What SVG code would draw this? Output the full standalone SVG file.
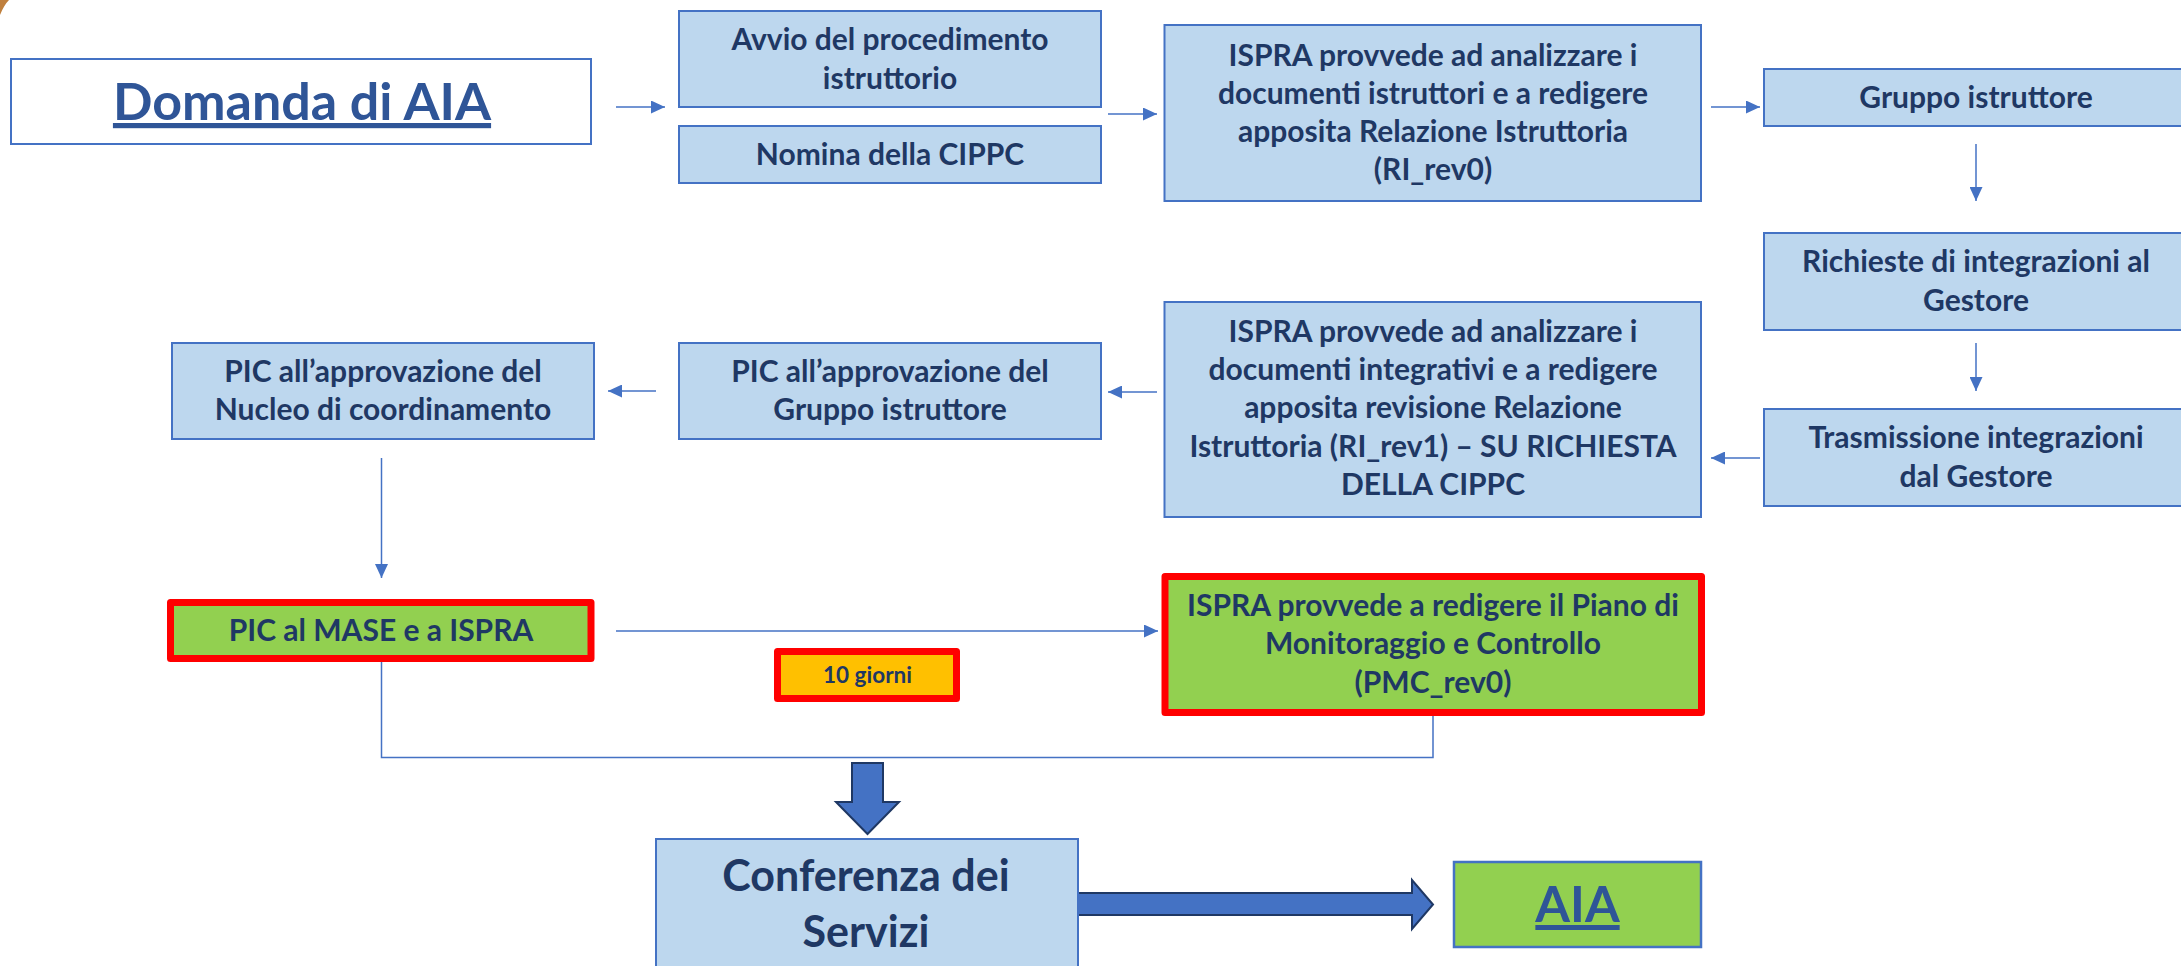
<svg xmlns="http://www.w3.org/2000/svg" width="2181" height="966" viewBox="0 0 2181 966">
<defs>
<style>
.box{fill:#BDD7EE;stroke:#4472C4;stroke-width:2}
.hl{stroke:#FF0000;stroke-width:7;stroke-linejoin:round}
.green{fill:#92D050}
.orange{fill:#FFC000}
.t{font-family:Lato,"Liberation Sans",sans-serif;font-weight:700;fill:#1F3864;font-size:30px;text-anchor:middle}
.t.s{font-size:22.5px}
.t.l{font-size:43px}
.big{font-family:Lato,"Liberation Sans",sans-serif;font-weight:700;fill:#2F5597;text-anchor:middle;text-decoration:underline}
.conn{fill:none;stroke:#4472C4;stroke-width:1.5}
.block{fill:#4472C4;stroke:#1F3864;stroke-width:2}
</style>
<marker id="ah" markerUnits="userSpaceOnUse" markerWidth="14" markerHeight="13" refX="14" refY="6.5" orient="auto">
<path d="M0,0 L14,6.5 L0,13 Z" fill="#4472C4"/>
</marker>
</defs>
<rect width="2181" height="966" fill="#FFFFFF"/>
<path d="M0,0 H9 Q4,5 0,15 Z" fill="#C0803E"/>

<g id="connectors">
<line class="conn" x1="616" y1="107" x2="665" y2="107" marker-end="url(#ah)"/>
<line class="conn" x1="1108" y1="114" x2="1157" y2="114" marker-end="url(#ah)"/>
<line class="conn" x1="1711" y1="107" x2="1760" y2="107" marker-end="url(#ah)"/>
<line class="conn" x1="1976" y1="144" x2="1976" y2="201" marker-end="url(#ah)"/>
<line class="conn" x1="1976" y1="343" x2="1976" y2="391" marker-end="url(#ah)"/>
<line class="conn" x1="1760" y1="458" x2="1711" y2="458" marker-end="url(#ah)"/>
<line class="conn" x1="1157" y1="392" x2="1108" y2="392" marker-end="url(#ah)"/>
<line class="conn" x1="656" y1="391" x2="608" y2="391" marker-end="url(#ah)"/>
<line class="conn" x1="381.5" y1="458" x2="381.5" y2="578" marker-end="url(#ah)"/>
<line class="conn" x1="616" y1="631" x2="1158" y2="631" marker-end="url(#ah)"/>
<path class="conn" d="M381.5,662 V757.5 H1433 V716"/>
<path class="block" d="M852,763 H883 V802 H899 L867.5,834 L836,802 H852 Z"/>
<path class="block" d="M1078,893 H1412 V880 L1433,904.5 L1412,929 V915 H1078 Z"/>
</g>

<g id="domanda">
<rect x="11" y="59" width="580" height="85" fill="#FFFFFF" stroke="#4472C4" stroke-width="2"/>
<text class="big" x="302" y="120" font-size="52">Domanda di AIA</text>
</g>

<g id="avvio">
<rect class="box" x="679" y="11" width="422" height="96"/>
<text class="t" x="890" y="50">Avvio del procedimento</text>
<text class="t" x="890" y="89">istruttorio</text>
</g>

<g id="nomina">
<rect class="box" x="679" y="126" width="422" height="57"/>
<text class="t" x="890" y="165">Nomina della CIPPC</text>
</g>

<g id="ispra1">
<rect class="box" x="1164.5" y="25" width="536.5" height="176"/>
<text class="t" x="1433" y="66">ISPRA provvede ad analizzare i</text>
<text class="t" x="1433" y="104">documenti istruttori e a redigere</text>
<text class="t" x="1433" y="142">apposita Relazione Istruttoria</text>
<text class="t" x="1433" y="180">(RI_rev0)</text>
</g>

<g id="gruppo">
<rect class="box" x="1764" y="69" width="430" height="57"/>
<text class="t" x="1976" y="108">Gruppo istruttore</text>
</g>

<g id="richieste">
<rect class="box" x="1764" y="233" width="430" height="97"/>
<text class="t" x="1976" y="272">Richieste di integrazioni al</text>
<text class="t" x="1976" y="311">Gestore</text>
</g>

<g id="trasmissione">
<rect class="box" x="1764" y="409" width="430" height="97"/>
<text class="t" x="1976" y="448">Trasmissione integrazioni</text>
<text class="t" x="1976" y="487">dal Gestore</text>
</g>

<g id="ispra2">
<rect class="box" x="1164.5" y="302" width="536.5" height="215"/>
<text class="t" x="1433" y="342">ISPRA provvede ad analizzare i</text>
<text class="t" x="1433" y="380">documenti integrativi e a redigere</text>
<text class="t" x="1433" y="418">apposita revisione Relazione</text>
<text class="t" x="1433" y="457">Istruttoria (RI_rev1) – SU RICHIESTA</text>
<text class="t" x="1433" y="495">DELLA CIPPC</text>
</g>

<g id="pic-gruppo">
<rect class="box" x="679" y="343" width="422" height="96"/>
<text class="t" x="890" y="382">PIC all’approvazione del</text>
<text class="t" x="890" y="420">Gruppo istruttore</text>
</g>

<g id="pic-nucleo">
<rect class="box" x="172" y="343" width="422" height="96"/>
<text class="t" x="383" y="382">PIC all’approvazione del</text>
<text class="t" x="383" y="420">Nucleo di coordinamento</text>
</g>

<g id="pic-mase">
<rect class="hl green" x="170.5" y="602.5" width="420.5" height="56"/>
<text class="t" x="381" y="641">PIC al MASE e a ISPRA</text>
</g>

<g id="dieci-giorni">
<rect class="hl orange" x="777.5" y="651.5" width="179" height="47"/>
<text class="t s" x="867.5" y="683">10 giorni</text>
</g>

<g id="pmc">
<rect class="hl green" x="1165" y="576.5" width="536.5" height="136"/>
<text class="t" x="1433" y="616">ISPRA provvede a redigere il Piano di</text>
<text class="t" x="1433" y="654">Monitoraggio e Controllo</text>
<text class="t" x="1433" y="693">(PMC_rev0)</text>
</g>

<g id="conferenza">
<rect class="box" x="656" y="839" width="422" height="160"/>
<text class="t l" x="866" y="891">Conferenza dei</text>
<text class="t l" x="866" y="947">Servizi</text>
</g>

<g id="aia">
<rect x="1454" y="862" width="247" height="85" fill="#92D050" stroke="#4472C4" stroke-width="2.5"/>
<text class="big" x="1577.5" y="922" font-size="50">AIA</text>
</g>
</svg>
